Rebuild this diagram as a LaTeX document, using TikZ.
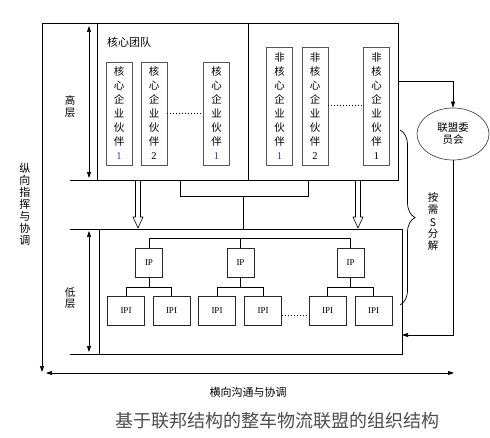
\documentclass[tikz,border=0pt]{standalone}
\usepackage{fontspec}
\setmainfont{Liberation Serif}
\newfontfamily\cjk{Noto Sans CJK SC}
\usetikzlibrary{positioning,shapes.geometric,arrows.meta,decorations.pathreplacing}
\definecolor{numblue}{RGB}{40,70,140}
\definecolor{boxgray}{RGB}{85,85,85}

\begin{document}
\begin{tikzpicture}[x=1pt, y=-1pt, line width=0.7pt, >={Triangle[length=6pt,width=4pt]},
  partner/.style={draw=boxgray, line width=0.6pt, inner sep=0pt, minimum width=26pt, align=center, font=\cjk\fontsize{10.5}{14}\selectfont},
  ip/.style={draw=black!85, line width=0.6pt, inner sep=0pt, minimum width=27pt, minimum height=29pt, font=\fontsize{9}{9}\selectfont},
  ipi/.style={ip, minimum width=37pt},
  vlabel/.style={align=center, font=\cjk\fontsize{10.5}{12}\selectfont},
  dots/.style={dotted, line width=1pt},
  node distance=35pt, on grid]

  \useasboundingbox (0,0) rectangle (490,438);

  \draw (42,23) -- (398,23) -- (398,180) -- (70,180);
  \draw (97,23) -- (97,180);
  \draw (248,23) -- (248,180);
  \draw (70,229) -- (402,229) -- (402,354) -- (70,354);
  \draw (99,229) -- (99,354);
  \draw[->] (42,23) -- (42,372);
  \draw[<->] (46,373) -- (454,373);
  \draw[<->] (89,26) -- (89,178);
  \draw[<->] (89,231) -- (89,352);

  \node[font=\cjk\fontsize{11}{11}\selectfont] (team) at (129,42) {核心团队};
  \node[partner, minimum height=103pt] (c1) at (119,113.5) {核\\心\\企\\业\\伙\\伴\\{\normalfont\color{numblue}1}};
  \node[partner, minimum height=103pt] (c2) [right=of c1] {核\\心\\企\\业\\伙\\伴\\{\normalfont 2}};
  \node[partner, minimum height=103pt] (c3) [right=62.5pt of c2] {核\\心\\企\\业\\伙\\伴\\{\normalfont\color{numblue}1}};
  \node[partner, minimum height=118pt] (n1) at (279.5,106) {非\\核\\心\\企\\业\\伙\\伴\\{\normalfont\color{numblue}1}};
  \node[partner, minimum height=118pt] (n2) [right=35.5pt of n1] {非\\核\\心\\企\\业\\伙\\伴\\{\normalfont 2}};
  \node[partner, minimum height=118pt] (n3) [right=61.5pt of n2] {非\\核\\心\\企\\业\\伙\\伴\\{\normalfont 1}};
  \draw[dots] (c2) -- (c3);
  \draw[dots] (n2) -- (n3);

  \node[draw=black!70, ellipse, minimum width=72pt, minimum height=52pt, inner sep=0pt, vlabel] (com) at (453,134) {联盟委\\员会};
  \coordinate (toprt) at (398,81);
  \coordinate (lowrt) at (402,335);
  \draw[->] (toprt) -| (com.north);
  \draw[->] (com.south) |- (lowrt);
  \draw[decorate, decoration={brace, amplitude=15pt}] (400,130) -- (400,305);
  \node[vlabel] (split) at (433,222) {按\\需\\S\\分\\解};

  \node[ip] (ip1) at (149,262.5) {IP};
  \node[ip] (ip2) [right=91.5pt of ip1] {IP};
  \node[ip] (ip3) [right=110pt of ip2] {IP};
  \node[ipi] (ipi1) at (126,311) {IPI};
  \node[ipi] (ipi2) [right=45.5pt of ipi1] {IPI};
  \node[ipi] (ipi3) [right=45.5pt of ipi2] {IPI};
  \node[ipi] (ipi4) [right=46pt of ipi3] {IPI};
  \node[ipi] (ipi5) [right=64.5pt of ipi4] {IPI};
  \node[ipi] (ipi6) [right=46pt of ipi5] {IPI};
  \foreach \p/\a/\b in {ip1/ipi1/ipi2, ip2/ipi3/ipi4, ip3/ipi5/ipi6} {
    \draw[line width=0.6pt] (\p.south) -- ++(0,10) -| (\a.north);
    \draw[line width=0.6pt] (\p.south) -- ++(0,10) -| (\b.north);
  }
  \draw[line width=0.6pt] (ip1.north) -- ++(0,-9) -| (ip3.north);
  \draw[line width=0.6pt] (ip2.north) -- ++(0,-9);
  \draw[dots] ([yshift=-5pt]ipi4.east) -- ([yshift=-5pt]ipi5.west);

  \coordinate (ba) at (180,180);
  \coordinate (bb) at (308,180);
  \coordinate (bj) at (243,196);
  \coordinate (bm) at (243,229);
  \draw (ba) -- ++(0,16) -| (bb);
  \draw (bj) -- (bm);
  \foreach \x in {138,358}
    \draw[line width=0.6pt, fill=white] (\x-2.5,181) -- (\x-2.5,217) -- (\x-5,217) -- (\x,228) -- (\x+5,217) -- (\x+2.5,217) -- (\x+2.5,181);

  \node[vlabel] (high) at (70,107) {高\\层};
  \node[vlabel, font=\cjk\fontsize{10.5}{11}\selectfont] (low) at (70,298) {低\\层};
  \node[vlabel, font=\cjk\fontsize{11}{12}\selectfont] (vert) at (25,204) {纵\\向\\指\\挥\\与\\协\\调};
  \node[font=\cjk\fontsize{11}{11}\selectfont] (horiz) at (248,392) {横向沟通与协调};
  \node[font=\cjk\fontsize{18}{18}\selectfont, text=black!70] (title) at (277,421) {基于联邦结构的整车物流联盟的组织结构};
\end{tikzpicture}
\end{document}
